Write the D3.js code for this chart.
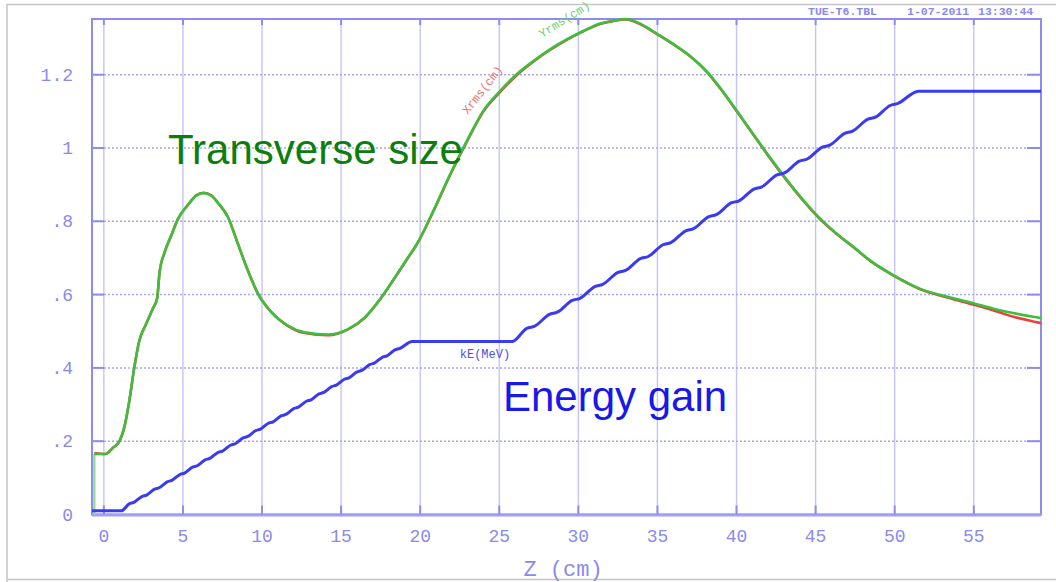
<!DOCTYPE html>
<html>
<head>
<meta charset="utf-8">
<script src="https://cdn.jsdelivr.net/npm/d3@7"></script>
<style>
    body { margin: 0; background: #fff; }
    .tick-label { font-family: "Liberation Mono", "DejaVu Sans Mono", monospace; fill: #8a8aec; }
</style>
</head>
<body>
<div id="root"></div>
<script>
// data
const zTicks = [0, 5, 10, 15, 20, 25, 30, 35, 40, 45, 50, 55]
const yTicks = [0, 0.2, 0.4, 0.6, 0.8, 1.0, 1.2]
const yTickLabels = ["0", ".2", ".4", ".6", ".8", "1", "1.2"]

// transverse size (cm) vs z, the curves start at zStart where they jump up from zero
const zStart = -0.6
const zSize = [-0.6, 0.1, 0.57, 0.99, 1.3, 1.61, 1.92, 2.24, 2.67, 3.1, 3.37, 3.52, 3.84, 4.26, 4.68, 5.32, 5.84, 6.3, 6.79,
    7.22, 7.85, 8.48, 9.11, 9.75, 10.59, 11.65, 12.7, 14.18, 15.44, 16.5, 17.55, 18.4, 19.24, 19.79, 20.84, 21.9,
    22.96, 24.0, 25.06, 26.12, 27.17, 28.23, 29.3, 30.34, 31.4, 32.26, 33.0, 33.96, 35.0, 36.06, 37.1, 38.16, 39.0,
    40.04, 41.1, 42.15, 43.2, 44.26, 45.32, 46.37, 47.43, 48.48, 49.96, 51.65, 53.34, 55.02, 56.3, 57.56, 59.25]
const yrms = [0.165, 0.165, 0.182, 0.2, 0.239, 0.31, 0.40, 0.474, 0.52, 0.562, 0.59, 0.66, 0.715, 0.761, 0.806, 0.845, 0.870, 0.877, 0.870,
    0.850, 0.811, 0.738, 0.665, 0.602, 0.552, 0.515, 0.497, 0.491, 0.506, 0.538, 0.593, 0.647, 0.702, 0.738, 0.829, 0.929,
    1.02, 1.102, 1.156, 1.202, 1.238, 1.27, 1.297, 1.32, 1.34, 1.347, 1.352, 1.338, 1.311, 1.282, 1.250, 1.207, 1.162,
    1.100, 1.035, 0.972, 0.912, 0.856, 0.806, 0.765, 0.729, 0.692, 0.652, 0.615, 0.594, 0.576, 0.561, 0.549, 0.536]
const xrms = [0.168, 0.165, 0.182, 0.2, 0.239, 0.31, 0.40, 0.474, 0.52, 0.562, 0.59, 0.66, 0.715, 0.761, 0.806, 0.845, 0.871, 0.878, 0.871,
    0.850, 0.811, 0.738, 0.665, 0.602, 0.552, 0.514, 0.495, 0.489, 0.505, 0.537, 0.592, 0.646, 0.701, 0.737, 0.828, 0.927,
    1.018, 1.100, 1.153, 1.199, 1.236, 1.268, 1.296, 1.319, 1.339, 1.347, 1.351, 1.337, 1.310, 1.281, 1.249, 1.206, 1.161,
    1.099, 1.034, 0.970, 0.910, 0.854, 0.804, 0.764, 0.728, 0.691, 0.651, 0.614, 0.592, 0.572, 0.556, 0.539, 0.522]

// kinetic energy (MeV) vs z, one shoulder + rise per accelerating cell
const zEnergy = [-0.75, 1.1, 1.6, 1.9, 2.4, 2.7, 3.2, 3.5, 4.0, 4.3, 4.8, 5.1, 5.6, 5.9, 6.4, 6.7, 7.2, 7.5, 8.0, 8.3,
    8.8, 9.1, 9.6, 9.9, 10.4, 10.7, 11.2, 11.5, 12.0, 12.3, 12.8, 13.1, 13.6, 13.9, 14.4, 14.7, 15.2, 15.5, 16.0, 16.3,
    16.8, 17.1, 17.6, 17.9, 18.4, 18.7, 19.5, 25.8, 26.74, 27.24, 28.17, 28.67, 29.61, 30.11, 31.04, 31.54, 32.48, 32.98,
    33.92, 34.42, 35.35, 35.85, 36.79, 37.29, 38.22, 38.72, 39.66, 40.16, 41.10, 41.60, 42.53, 43.03, 43.97, 44.47,
    45.40, 45.90, 46.84, 47.34, 48.28, 48.78, 49.71, 50.21, 51.5, 59.25]
const kE = [0.010, 0.010, 0.029, 0.033, 0.049, 0.053, 0.069, 0.073, 0.089, 0.093, 0.109, 0.113, 0.129, 0.133, 0.149, 0.153,
    0.169, 0.173, 0.189, 0.193, 0.209, 0.213, 0.229, 0.233, 0.249, 0.253, 0.269, 0.273, 0.289, 0.293, 0.309, 0.313,
    0.329, 0.333, 0.349, 0.353, 0.369, 0.373, 0.389, 0.393, 0.409, 0.413, 0.429, 0.433, 0.449, 0.453, 0.472, 0.472,
    0.508, 0.514, 0.546, 0.552, 0.584, 0.590, 0.622, 0.628, 0.660, 0.666, 0.698, 0.704, 0.736, 0.742, 0.774, 0.780,
    0.812, 0.818, 0.850, 0.856, 0.888, 0.894, 0.926, 0.932, 0.964, 0.970, 1.002, 1.008, 1.040, 1.046, 1.078, 1.084,
    1.116, 1.122, 1.155, 1.155]

function drawChart() {
    const w = 1056, h = 582
    const left = 92, right = 1041, top = 19, bottom = 514.5
    const axisColor = "#8c8cf0"

//scales
    const x = d3.scaleLinear()
        .domain([-0.75, 59.25])
        .range([left, right])

    const y = d3.scaleLinear()
        .domain([0, 1.352])
        .range([bottom, top])

    const svg = d3.select("#root").append("svg")
        .attr("width", w)
        .attr("height", h)
        .style("display", "block")

    svg.append("rect").attr("width", w).attr("height", h).attr("fill", "#fff")

    // outer frame of the screenshot
    svg.append("path")
        .attr("d", `M7,${h} V4.5 H${w} M7,579.5 H${w}`)
        .attr("fill", "none")
        .attr("stroke", "#c4c4cc")
        .attr("stroke-width", 1.5)

    // grid
    const grid = svg.append("g").classed("grid", true)
    grid.selectAll("line.vgrid").data(zTicks).enter().append("line")
        .attr("class", "vgrid")
        .attr("x1", d => x(d)).attr("x2", d => x(d))
        .attr("y1", top).attr("y2", bottom)
        .attr("stroke", "#c4c4f6")
        .attr("stroke-width", 1.4)

    grid.selectAll("line.hgrid").data(yTicks.slice(1)).enter().append("line")
        .attr("class", "hgrid")
        .attr("x1", left).attr("x2", right)
        .attr("y1", d => y(d)).attr("y2", d => y(d))
        .attr("stroke", "#a8a8f2")
        .attr("stroke-width", 1.5)
        .attr("stroke-dasharray", "2,2")

    // frame + ticks
    const axes = svg.append("g").classed("axes", true)
    axes.append("rect")
        .attr("x", left).attr("y", top)
        .attr("width", right - left).attr("height", bottom - top)
        .attr("fill", "none")
        .attr("stroke", axisColor)
        .attr("stroke-width", 2)

    axes.append("line")
        .attr("x1", left).attr("x2", right)
        .attr("y1", bottom + 0.5).attr("y2", bottom + 0.5)
        .attr("stroke", "#a0a0f4")
        .attr("stroke-width", 3)

    axes.selectAll("line.ytick").data(yTicks.slice(1)).enter().append("line")
        .attr("x1", left).attr("x2", left + 12)
        .attr("y1", d => y(d)).attr("y2", d => y(d))
        .attr("stroke", axisColor).attr("stroke-width", 2)
    axes.selectAll("line.ytickr").data(yTicks.slice(1)).enter().append("line")
        .attr("x1", right - 14).attr("x2", right)
        .attr("y1", d => y(d)).attr("y2", d => y(d))
        .attr("stroke", axisColor).attr("stroke-width", 2)
    axes.selectAll("line.xtick").data(zTicks).enter().append("line")
        .attr("x1", d => x(d)).attr("x2", d => x(d))
        .attr("y1", bottom).attr("y2", bottom - 9)
        .attr("stroke", axisColor).attr("stroke-width", 2)
    axes.selectAll("line.xtickt").data(zTicks).enter().append("line")
        .attr("x1", d => x(d)).attr("x2", d => x(d))
        .attr("y1", top).attr("y2", top + 6)
        .attr("stroke", axisColor).attr("stroke-width", 2)

    // tick labels
    svg.selectAll("text.ylab").data(yTicks).enter().append("text")
        .attr("class", "tick-label")
        .attr("x", 73)
        .attr("y", d => y(d) + 6)
        .attr("text-anchor", "end")
        .attr("font-size", 18)
        .text((d, i) => yTickLabels[i])

    svg.selectAll("text.xlab").data(zTicks).enter().append("text")
        .attr("class", "tick-label")
        .attr("x", d => x(d))
        .attr("y", 542)
        .attr("text-anchor", "middle")
        .attr("font-size", 18)
        .text(d => d)

    svg.append("text")
        .attr("class", "tick-label")
        .attr("x", 563)
        .attr("y", 576)
        .attr("text-anchor", "middle")
        .attr("font-size", 22)
        .text("Z (cm)")

    // header
    const header = svg.append("g").attr("class", "tick-label").attr("font-size", 11.5).attr("font-weight", "bold")
    header.append("text").attr("x", 808).attr("y", 15).text("TUE-T6.TBL")
    header.append("text").attr("x", 907).attr("y", 15).text("1-07-2011")
    header.append("text").attr("x", 978).attr("y", 15).text("13:30:44")

    // curves
    const line = d3.line()
        .x(d => x(d[0]))
        .y(d => y(d[1]))
        .curve(d3.curveMonotoneX)

    const clip = svg.append("clipPath").attr("id", "plotclip")
    clip.append("rect").attr("x", left).attr("y", top - 2).attr("width", right - left).attr("height", bottom - top + 4)

    const curves = svg.append("g").attr("clip-path", "url(#plotclip)")

    // jump from zero at the entrance
    curves.append("line")
        .attr("x1", x(zStart)).attr("x2", x(zStart))
        .attr("y1", y(0)).attr("y2", y(yrms[0]))
        .attr("stroke", "#8ed88e")
        .attr("stroke-width", 2.2)

    curves.append("path")
        .datum(zSize.map((z, i) => [z, xrms[i]]))
        .attr("d", line)
        .attr("fill", "none")
        .attr("stroke", "#ee3c3c")
        .attr("stroke-width", 2.6)

    curves.append("path")
        .datum(zSize.map((z, i) => [z, yrms[i]]))
        .attr("d", line)
        .attr("fill", "none")
        .attr("stroke", "#3cc03c")
        .attr("stroke-width", 2.6)

    curves.append("path")
        .datum(zEnergy.map((z, i) => [z, kE[i]]))
        .attr("d", line)
        .attr("fill", "none")
        .attr("stroke", "#3a3aee")
        .attr("stroke-width", 3)

    // small curve labels
    svg.append("text")
        .attr("transform", `translate(${x(23.0)},${y(1.09)}) rotate(-52)`)
        .attr("font-family", "Liberation Mono, monospace")
        .attr("font-size", 12)
        .attr("fill", "#f07070")
        .text("Xrms(cm)")

    svg.append("text")
        .attr("transform", `translate(${x(27.7)},${y(1.3)}) rotate(-32)`)
        .attr("font-family", "Liberation Mono, monospace")
        .attr("font-size", 12)
        .attr("fill", "#70d070")
        .text("Yrms(cm)")

    svg.append("text")
        .attr("x", x(22.5))
        .attr("y", y(0.427))
        .attr("font-family", "Liberation Mono, monospace")
        .attr("font-size", 12)
        .attr("fill", "#5050e4")
        .text("kE(MeV)")

    // big annotations
    svg.append("text")
        .attr("x", 168)
        .attr("y", 164)
        .attr("font-family", "Liberation Sans, Arial, sans-serif")
        .attr("font-size", 42)
        .attr("fill", "#0b7e0b")
        .text("Transverse size")

    svg.append("text")
        .attr("x", 503)
        .attr("y", 411)
        .attr("font-family", "Liberation Sans, Arial, sans-serif")
        .attr("font-size", 42)
        .attr("fill", "#1818e8")
        .text("Energy gain")
}

drawChart()
</script>
</body>
</html>
